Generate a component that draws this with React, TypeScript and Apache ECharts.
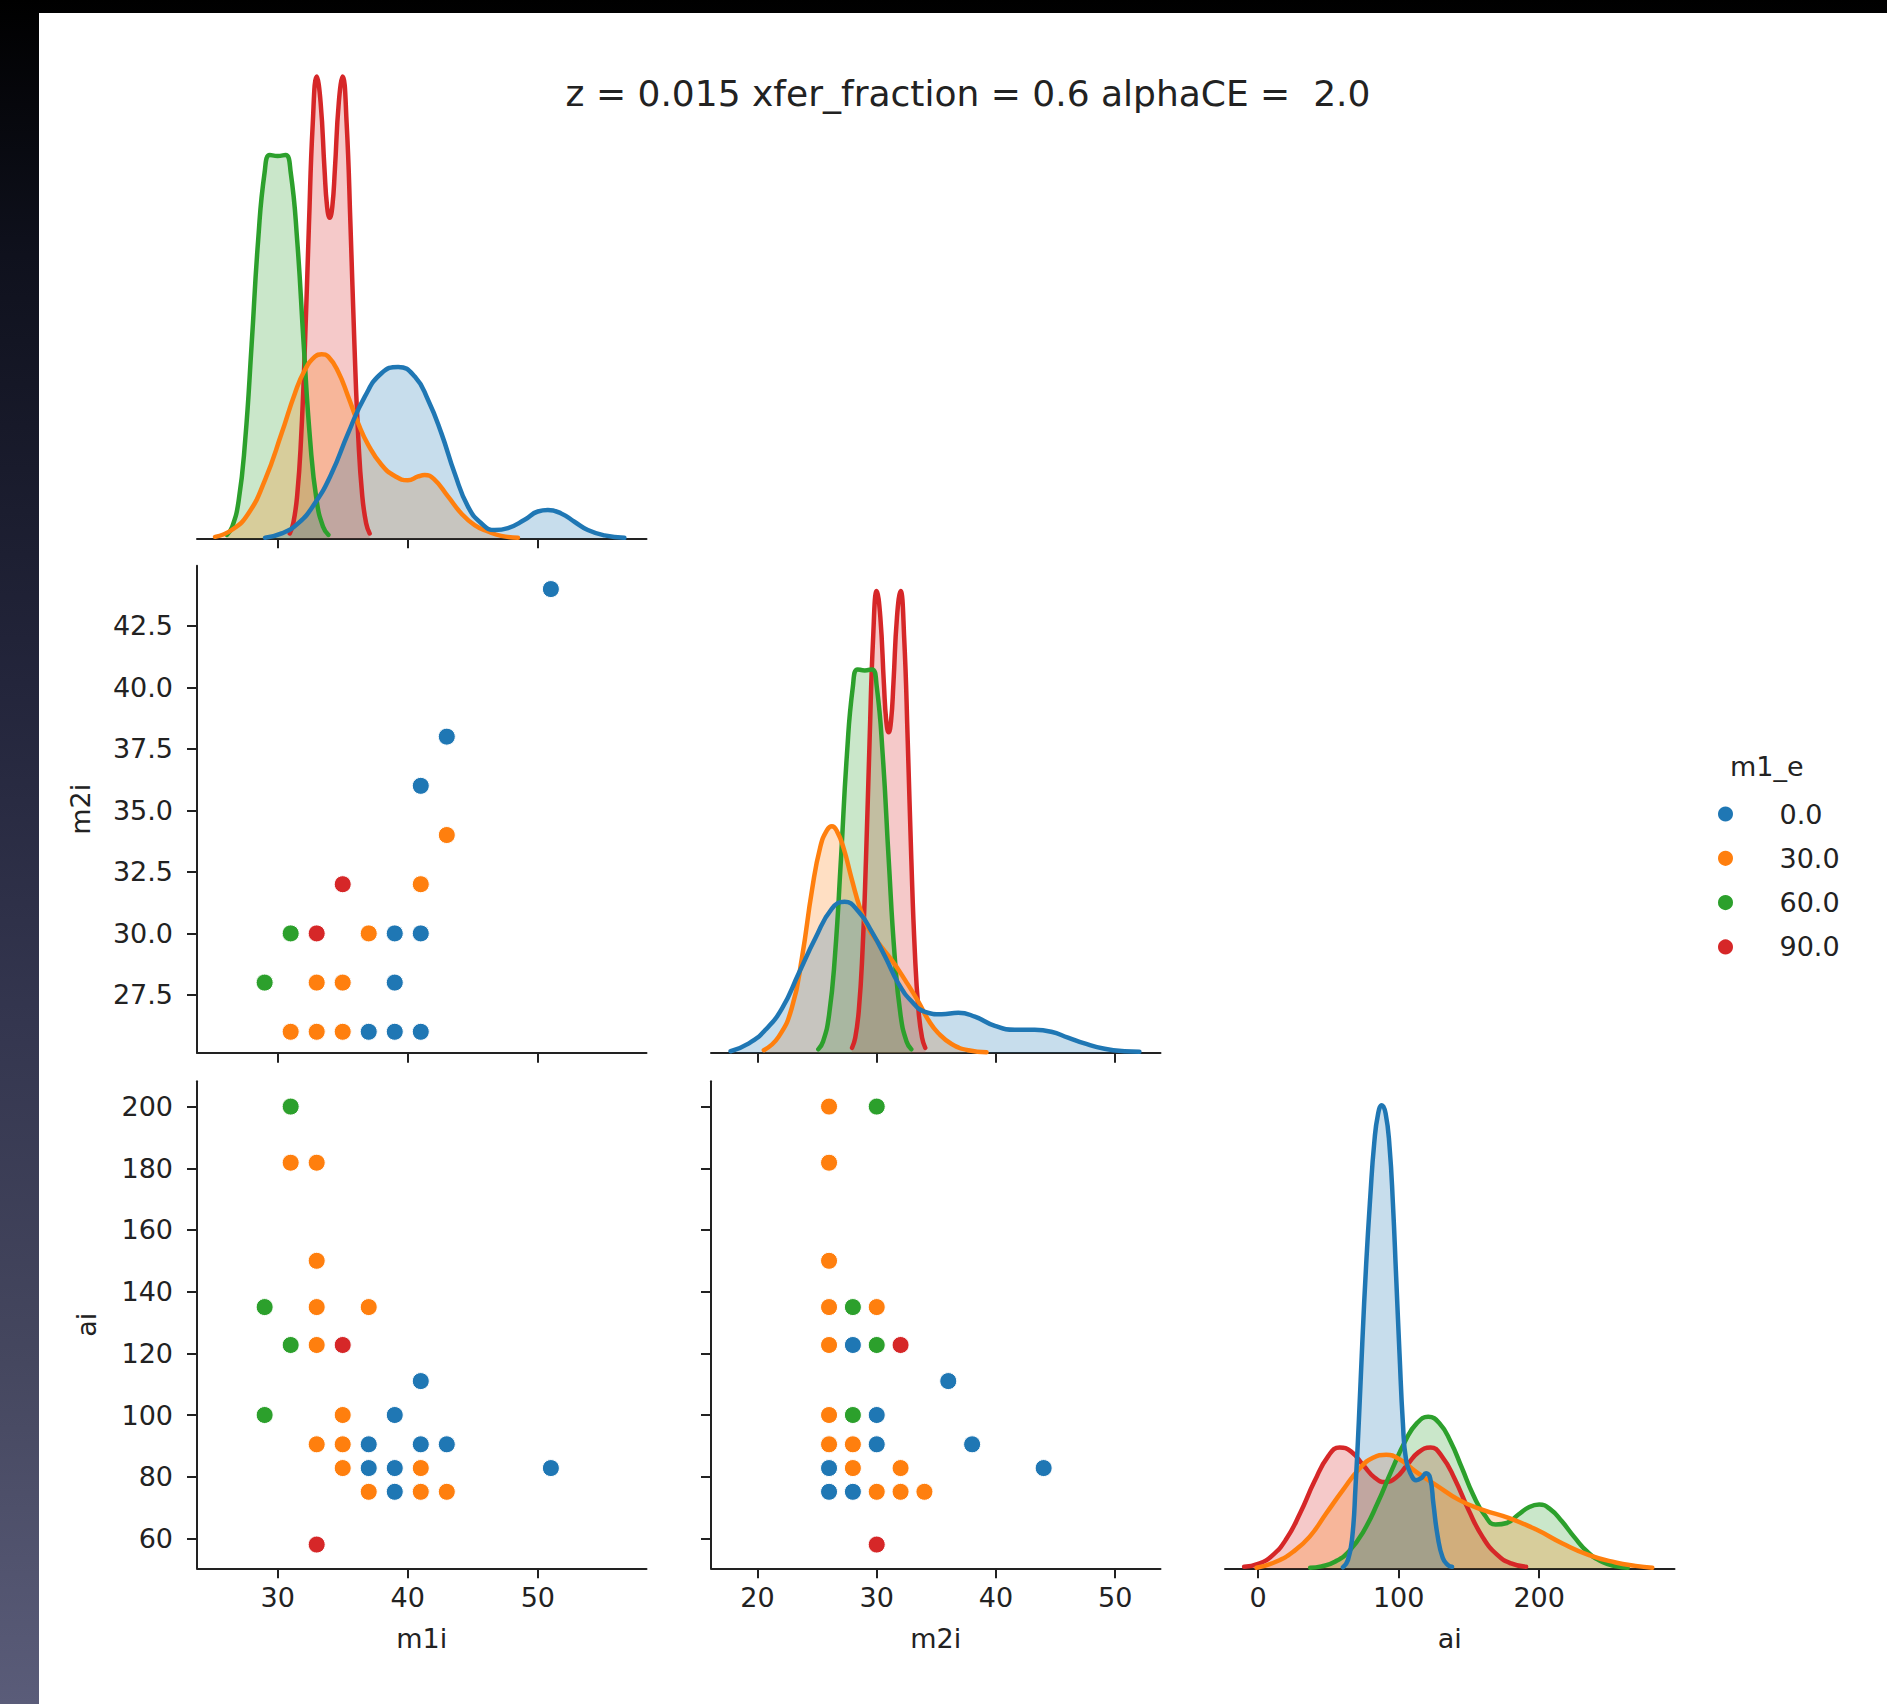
import React, { useEffect, useRef } from 'react';
import * as echarts from 'echarts';

const FONT = 'DejaVu Sans';
const TEXT = '#222222';

const TITLE = 'z = 0.015 xfer_fraction = 0.6 alphaCE =  2.0';
const HUE_NAME = 'm1_e';
const HUES = ['0.0', '30.0', '60.0', '90.0'];
const COLORS = ['#1f77b4', '#ff7f0e', '#2ca02c', '#d62728'];

// rows: [m1i, m2i, ai]
const pointsE0 = [
  [35, 28, 122.7], [41, 36, 111], [39, 30, 100], [43, 38, 90.5], [41, 30, 90.5], [37, 26, 90.5],
  [51, 44, 82.8], [37, 26, 82.8], [39, 26, 82.8], [39, 28, 75.1], [41, 26, 75.1],
];
const pointsE30 = [
  [31, 26, 200], [31, 26, 181.8], [33, 26, 181.8], [33, 26, 150], [33, 26, 135], [37, 30, 135],
  [33, 26, 122.7], [35, 26, 100], [33, 28, 90.5], [35, 26, 90.5], [35, 28, 82.8], [41, 32, 82.8],
  [37, 30, 75.1], [41, 32, 75.1], [43, 34, 75.1],
];
const pointsE60 = [[31, 30, 200], [29, 28, 135], [31, 30, 122.7], [29, 28, 100]];
const pointsE90 = [[35, 32, 122.7], [33, 30, 58]];

// axis tick values
const m1iTicks = [30, 40, 50];
const m2iTicksX = [20, 30, 40, 50];
const aiTicksX = [0, 100, 200];
const m2iTicksY = [27.5, 30, 32.5, 35, 37.5, 40, 42.5];
const aiTicksY = [60, 80, 100, 120, 140, 160, 180, 200];

// axis extents
const m1iRange = [23.8, 58.35];
const m2iRangeX = [16.1, 53.8];
const aiRangeX = [-23.6, 296.3];
const m2iRangeY = [25.15, 44.95];
const aiRangeY = [50.3, 208.2];

// KDE curves: [value, density as share of the panel height]
const kdeM1iE0 = [[29.03,0.001],[30.31,0.010],[31.59,0.031],[32.86,0.072],[34.14,0.133],[35.42,0.216],[36.70,0.291],[37.98,0.339],[39.26,0.352],[40.54,0.332],[41.56,0.284],[42.58,0.216],[43.61,0.133],[44.63,0.065],[45.65,0.031],[46.68,0.017],[47.70,0.021],[48.98,0.038],[50.0,0.055],[50.77,0.058],[51.79,0.051],[52.81,0.034],[53.84,0.017],[55.12,0.006],[56.65,0.001]];
const kdeM1iE30 = [[25.19,0.003],[26.47,0.017],[27.75,0.051],[29.03,0.120],[30.31,0.216],[31.33,0.298],[32.10,0.346],[32.86,0.373],[33.38,0.378],[33.89,0.373],[34.65,0.342],[35.42,0.291],[36.19,0.236],[36.96,0.192],[37.98,0.151],[39.0,0.128],[40.0,0.119],[40.8,0.127],[41.3,0.130],[42.0,0.122],[43.09,0.086],[44.12,0.051],[45.14,0.027],[46.16,0.014],[47.19,0.005],[48.47,0.001]];
const kdeM1iE60 = [[26.1,0.007],[26.5,0.023],[27.0,0.077],[27.5,0.200],[28.0,0.398],[28.5,0.612],[29.0,0.752],[29.4,0.787],[30.0,0.785],[30.6,0.787],[31.0,0.752],[31.5,0.612],[32.0,0.398],[32.5,0.200],[33.0,0.077],[33.5,0.023],[33.9,0.007]];
const kdeM1iE90 = [[30.93,0.010],[31.2,0.031],[31.5,0.088],[31.8,0.205],[32.1,0.398],[32.4,0.640],[32.7,0.853],[33.0,0.948],[33.3,0.895],[33.6,0.758],[33.8,0.681],[34.0,0.658],[34.2,0.681],[34.4,0.758],[34.7,0.895],[35.0,0.948],[35.3,0.853],[35.6,0.640],[35.9,0.398],[36.2,0.205],[36.5,0.088],[36.8,0.031],[37.07,0.010]];

const kdeM2iE0 = [[17.74,0.003],[19.28,0.019],[20.67,0.047],[22.06,0.091],[23.46,0.163],[24.85,0.235],[26.24,0.296],[27.30,0.310],[28.47,0.290],[29.59,0.248],[30.71,0.197],[31.82,0.142],[32.94,0.105],[34.05,0.084],[35.44,0.079],[36.84,0.082],[38.23,0.074],[39.91,0.055],[41.58,0.047],[43.25,0.047],[44.64,0.043],[46.04,0.031],[47.43,0.019],[49.11,0.008],[50.78,0.003],[52.03,0.002]];
const kdeM2iE30 = [[20.53,0.005],[21.78,0.033],[22.90,0.094],[23.74,0.197],[24.57,0.334],[25.27,0.423],[25.83,0.457],[26.24,0.465],[26.66,0.455],[27.22,0.420],[27.92,0.355],[28.61,0.296],[29.31,0.255],[30.15,0.225],[31.26,0.190],[32.38,0.149],[33.49,0.105],[34.33,0.067],[35.17,0.040],[36.28,0.018],[37.68,0.005],[39.21,0.001]];
const kdeM2iE60 = [[25.1,0.007],[25.5,0.023],[26.0,0.077],[26.5,0.200],[27.0,0.398],[27.5,0.612],[28.0,0.752],[28.4,0.787],[29.0,0.785],[29.6,0.787],[30.0,0.752],[30.5,0.612],[31.0,0.398],[31.5,0.200],[32.0,0.077],[32.5,0.023],[32.9,0.007]];
const kdeM2iE90 = [[27.93,0.010],[28.2,0.031],[28.5,0.088],[28.8,0.205],[29.1,0.398],[29.4,0.640],[29.7,0.853],[30.0,0.948],[30.3,0.895],[30.6,0.758],[30.8,0.681],[31.0,0.658],[31.2,0.681],[31.4,0.758],[31.7,0.895],[32.0,0.948],[32.3,0.853],[32.6,0.640],[32.9,0.398],[33.2,0.205],[33.5,0.088],[33.8,0.031],[34.07,0.010]];

const kdeAiE0 = [[60.36,0.002],[63.9,0.017],[67.0,0.065],[69.3,0.168],[71.7,0.305],[74.1,0.462],[76.9,0.626],[79.8,0.763],[82.6,0.873],[85.4,0.934],[88.0,0.951],[90.7,0.934],[93.5,0.866],[95.9,0.749],[98.2,0.599],[100.6,0.441],[103.0,0.298],[105.3,0.222],[108.9,0.192],[112.4,0.181],[116.0,0.185],[119.5,0.195],[122.4,0.185],[124.7,0.133],[127.8,0.065],[131.4,0.021],[134.9,0.007],[138.0,0.003]];
const kdeAiE30 = [[-1.2,0.001],[13.0,0.014],[24.9,0.034],[36.7,0.065],[48.5,0.113],[60.4,0.161],[72.2,0.205],[81.7,0.227],[91.1,0.233],[100.6,0.224],[112.4,0.198],[126.6,0.171],[143.2,0.140],[159.8,0.120],[178.7,0.103],[197.6,0.080],[216.6,0.051],[235.5,0.027],[254.4,0.012],[268.6,0.005],[280.5,0.001]];
const kdeAiE60 = [[37,0.001],[45,0.004],[55,0.014],[65,0.036],[75,0.076],[85,0.134],[95,0.201],[105,0.263],[113,0.298],[121,0.311],[129,0.298],[137,0.260],[145,0.206],[153,0.151],[161,0.110],[169,0.090],[177,0.093],[185,0.110],[193,0.126],[200,0.131],[208,0.121],[216,0.097],[225,0.064],[235,0.032],[245,0.013],[255,0.004],[263,0.001]];
const kdeAiE90 = [[-10,0.003],[0,0.009],[10,0.026],[20,0.060],[30,0.114],[40,0.178],[50,0.231],[58,0.248],[66,0.240],[75,0.211],[83,0.186],[90.4,0.177],[98,0.186],[106,0.212],[114,0.238],[122.7,0.248],[131,0.229],[140,0.183],[150,0.118],[160,0.063],[170,0.028],[180,0.010],[190.7,0.003]];

const POINTS = [pointsE0, pointsE30, pointsE60, pointsE90];
const KDE_M1I = [kdeM1iE0, kdeM1iE30, kdeM1iE60, kdeM1iE90];
const KDE_M2I = [kdeM2iE0, kdeM2iE30, kdeM2iE60, kdeM2iE90];
const KDE_AI = [kdeAiE0, kdeAiE30, kdeAiE60, kdeAiE90];

const label = (fmt?: (v: number) => string) => ({
  fontSize: 27,
  color: TEXT,
  fontFamily: FONT,
  formatter: fmt,
});

function xAxis(gridIndex: number, range: number[], ticks: number[], showLabels: boolean, name?: string) {
  return {
    type: 'value',
    gridIndex,
    min: range[0],
    max: range[1],
    splitLine: { show: false },
    axisLine: { show: true, onZero: false, lineStyle: { color: TEXT, width: 2 } },
    axisTick: { show: true, length: 10, customValues: ticks, lineStyle: { color: TEXT, width: 2 } },
    axisLabel: { show: showLabels, margin: 16, customValues: ticks, ...label((v: number) => String(v)) },
    name: name || '',
    nameLocation: 'middle',
    nameGap: 57,
    nameTextStyle: { fontSize: 27, color: TEXT, fontFamily: FONT },
  };
}

function yAxis(gridIndex: number, range: number[], ticks: number[], showLabels: boolean, name: string | undefined, gap: number, fmt: (v: number) => string) {
  return {
    type: 'value',
    gridIndex,
    min: range[0],
    max: range[1],
    splitLine: { show: false },
    axisLine: { show: true, onZero: false, lineStyle: { color: TEXT, width: 2 } },
    axisTick: { show: true, length: 10, customValues: ticks, lineStyle: { color: TEXT, width: 2 } },
    axisLabel: { show: showLabels, margin: 24, customValues: ticks, ...label(fmt) },
    name: name || '',
    nameLocation: 'middle',
    nameGap: gap,
    nameTextStyle: { fontSize: 27, color: TEXT, fontFamily: FONT },
  };
}

const densityAxis = (gridIndex: number) => ({ type: 'value', gridIndex, min: 0, max: 1, show: false });

function buildOption() {
  const W = 449.5;
  const H = 487;
  const colX = [197, 711, 1225];
  const rowY = [51.3, 565.7, 1081.3];
  const cells = [
    [0, 0], // 0: m1i kde
    [0, 1], // 1: m1i vs m2i
    [1, 1], // 2: m2i kde
    [0, 2], // 3: m1i vs ai
    [1, 2], // 4: m2i vs ai
    [2, 2], // 5: ai kde
  ];
  const grid = cells.map(([c, r]) => ({ left: colX[c], top: rowY[r], width: W, height: H, containLabel: false }));

  const one = (v: number) => v.toFixed(1);
  const int = (v: number) => String(v);

  const xAxes = [
    xAxis(0, m1iRange, m1iTicks, false),
    xAxis(1, m1iRange, m1iTicks, false),
    xAxis(2, m2iRangeX, m2iTicksX, false),
    xAxis(3, m1iRange, m1iTicks, true, 'm1i'),
    xAxis(4, m2iRangeX, m2iTicksX, true, 'm2i'),
    xAxis(5, aiRangeX, aiTicksX, true, 'ai'),
  ];
  const yAxes = [
    densityAxis(0),
    yAxis(1, m2iRangeY, m2iTicksY, true, 'm2i', 103, one),
    densityAxis(2),
    yAxis(3, aiRangeY, aiTicksY, true, 'ai', 97, int),
    yAxis(4, aiRangeY, aiTicksY, false, undefined, 97, int),
    densityAxis(5),
  ];

  const series: any[] = [];
  // scatter panels: blue, orange, green, red order
  POINTS.forEach((pts, h) => {
    const base = {
      type: 'scatter',
      name: HUES[h],
      symbol: 'circle',
      symbolSize: 17,
      itemStyle: { color: COLORS[h], borderColor: '#ffffff', borderWidth: 1, opacity: 1 },
      silent: true,
    };
    series.push({ ...base, xAxisIndex: 1, yAxisIndex: 1, data: pts.map((p) => [p[0], p[1]]) });
    series.push({ ...base, xAxisIndex: 3, yAxisIndex: 3, data: pts.map((p) => [p[0], p[2]]) });
    series.push({ ...base, xAxisIndex: 4, yAxisIndex: 4, data: pts.map((p) => [p[1], p[2]]) });
  });
  // kde panels: drawn in reverse hue order (red first, blue on top)
  const kdePanels: [number, number[][][]][] = [
    [0, KDE_M1I],
    [2, KDE_M2I],
    [5, KDE_AI],
  ];
  kdePanels.forEach(([idx, curves]) => {
    for (let h = 3; h >= 0; h--) {
      series.push({
        type: 'line',
        name: HUES[h],
        xAxisIndex: idx,
        yAxisIndex: idx,
        data: curves[h],
        symbol: 'none',
        showSymbol: false,
        smooth: 0.5,
        lineStyle: { color: COLORS[h], width: 4.5, join: 'round', cap: 'round' },
        itemStyle: { color: COLORS[h] },
        areaStyle: { color: COLORS[h], opacity: 0.25 },
        silent: true,
      });
    }
  });

  return {
    animation: false,
    textStyle: { fontFamily: FONT },
    title: {
      text: TITLE,
      left: 963,
      top: 70,
      textAlign: 'center',
      textStyle: { fontSize: 36, fontWeight: 'normal', color: TEXT, fontFamily: FONT },
    },
    legend: {
      data: HUES.map((n) => ({ name: n, icon: 'circle' })),
      orient: 'vertical',
      left: 1711,
      top: 794,
      itemWidth: 98,
      itemHeight: 17,
      itemGap: 14.3,
      selectedMode: false,
      textStyle: { fontSize: 27, lineHeight: 30, color: TEXT, fontFamily: FONT },
    },
    graphic: [
      {
        type: 'text',
        left: 1730,
        top: 753,
        style: { text: HUE_NAME, fontSize: 27, fill: TEXT, fontFamily: FONT },
      },
    ],
    grid,
    xAxis: xAxes,
    yAxis: yAxes,
    series,
  };
}

export default function App() {
  const ref = useRef<HTMLDivElement>(null);
  useEffect(() => {
    const chart = echarts.init(ref.current as HTMLDivElement, null, { renderer: 'svg' });
    chart.setOption(buildOption() as any);
    return () => chart.dispose();
  }, []);
  return (
    <div
      style={{
        position: 'fixed',
        left: 0,
        top: 0,
        width: 1887,
        height: 1704,
        overflow: 'hidden',
        background: 'linear-gradient(to bottom, #000000 0%, #0f111d 15%, #23253b 40%, #34364f 60%, #45475f 80%, #5a5c79 100%)',
      }}
    >
      <div style={{ position: 'absolute', left: 39, top: 13, right: 0, bottom: 0, background: '#ffffff' }} />
      <div ref={ref} style={{ position: 'absolute', left: 0, top: 0, width: 1887, height: 1704 }} />
    </div>
  );
}
